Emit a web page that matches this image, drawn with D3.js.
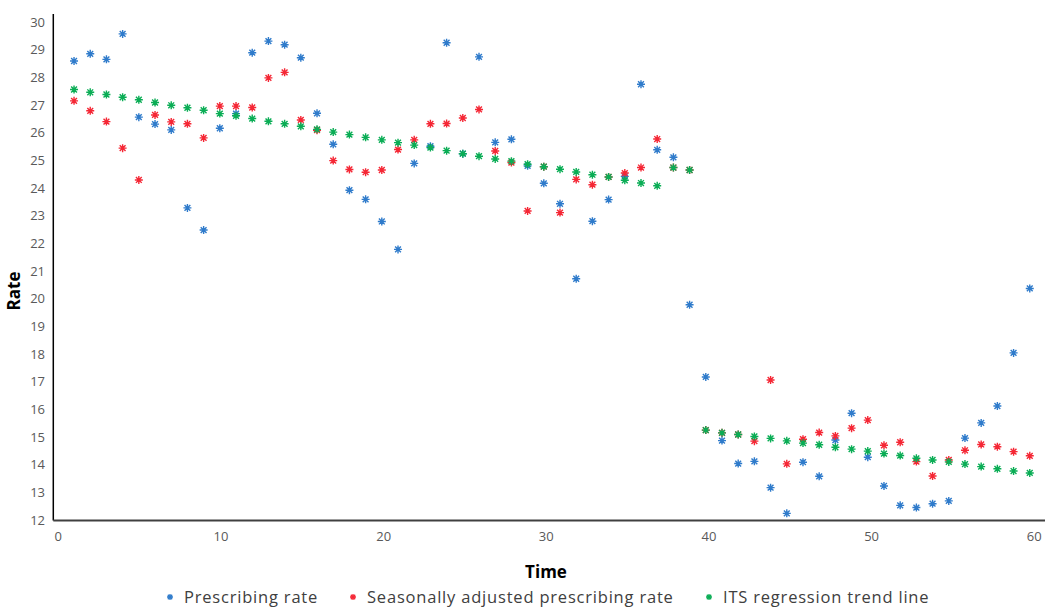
<!DOCTYPE html>
<html>
<head>
<meta charset="utf-8">
<script src="https://cdn.jsdelivr.net/npm/d3@7"></script>
<style>
  body { margin: 0; background: #fff; }
  text { font-family: "Open Sans", sans-serif; }
</style>
</head>
<body>
<div id="chart"></div>
<script>
// Time points (months)
const time = [1, 2, 3, 4, 5, 6, 7, 8, 9, 10, 11, 12, 13, 14, 15, 16, 17, 18, 19, 20,
    21, 22, 23, 24, 25, 26, 27, 28, 29, 30, 31, 32, 33, 34, 35, 36, 37, 38, 39, 40,
    41, 42, 43, 44, 45, 46, 47, 48, 49, 50, 51, 52, 53, 54, 55, 56, 57, 58, 59, 60];

// Prescribing rate
const prescribing = [28.59, 28.85, 28.65, 29.57, 26.56, 26.31, 26.10, 23.28, 22.48, 26.16,
    26.69, 28.89, 29.31, 29.18, 28.71, 26.70, 25.58, 23.92, 23.59, 22.79,
    21.78, 24.89, 25.51, 29.25, 25.24, 28.74, 25.65, 25.76, 24.80, 24.17,
    23.43, 20.72, 22.80, 23.58, 24.42, 27.75, 25.38, 25.11, 19.78, 17.17,
    14.87, 14.04, 14.12, 13.17, 12.24, 14.09, 13.58, 14.89, 15.86, 14.27,
    13.23, 12.53, 12.45, 12.59, 12.69, 14.96, 15.51, 16.12, 18.04, 20.37];

// Seasonally adjusted prescribing rate
const seasonal = [27.15, 26.79, 26.40, 25.44, 24.29, 26.64, 26.39, 26.32, 25.81, 26.96,
    26.96, 26.91, 27.98, 28.18, 26.46, 26.09, 24.99, 24.67, 24.57, 24.65,
    25.39, 25.74, 26.32, 26.33, 26.53, 26.84, 25.34, 24.92, 23.17, 24.77,
    23.11, 24.31, 24.12, 24.40, 24.54, 24.74, 25.77, 24.74, 24.65, 15.25,
    15.15, 15.09, 14.85, 17.06, 14.03, 14.92, 15.16, 15.04, 15.32, 15.61,
    14.70, 14.81, 14.11, 13.59, 14.17, 14.52, 14.73, 14.65, 14.47, 14.32];

// ITS regression trend line
const trend = [27.56, 27.46, 27.38, 27.28, 27.19, 27.09, 26.99, 26.90, 26.81, 26.69,
    26.61, 26.51, 26.41, 26.32, 26.23, 26.12, 26.02, 25.93, 25.83, 25.74,
    25.64, 25.55, 25.46, 25.35, 25.24, 25.15, 25.05, 24.97, 24.86, 24.77,
    24.68, 24.58, 24.48, 24.40, 24.28, 24.18, 24.08, 24.74, 24.65, 15.25,
    15.15, 15.09, 15.02, 14.95, 14.86, 14.78, 14.72, 14.63, 14.56, 14.49,
    14.40, 14.33, 14.23, 14.17, 14.10, 14.02, 13.93, 13.85, 13.77, 13.70];

const seriesNames = ["Prescribing rate", "Seasonally adjusted prescribing rate", "ITS regression trend line"];
const xTicks = [0, 10, 20, 30, 40, 50, 60];
const yTicks = [12, 13, 14, 15, 16, 17, 18, 19, 20, 21, 22, 23, 24, 25, 26, 27, 28, 29, 30];

const colors = ["#2f7bcb", "#f52735", "#0aad55"];
const width = 1048, height = 610;

let svg = d3.select("#chart")
    .append("svg")
    .attr("width", width)
    .attr("height", height);

// Scales (plot frame runs a little past 0 and 60)
let xScale = d3.scaleLinear()
    .domain([-0.28, 60.94])
    .range([53.3, 1045]);

let yScale = d3.scaleLinear()
    .domain([12, 30])
    .range([520, 22]);

// y axis labels
let yAxis = svg.append("g")
    .attr("transform", "translate(53,0)")
    .call(d3.axisLeft(yScale).tickValues(yTicks).tickSize(0).tickPadding(8));
yAxis.select(".domain").remove();
yAxis.selectAll("text")
    .style("font-size", "13px")
    .style("fill", "#595959");

// x axis labels, nudged slightly right like the original's
let xAxis = svg.append("g")
    .attr("transform", "translate(0,520)")
    .call(d3.axisBottom(xScale).tickValues(xTicks).tickSize(0).tickPadding(12));
xAxis.select(".domain").remove();
xAxis.selectAll("text")
    .attr("dx", d => d / 15)
    .style("font-size", "13px")
    .style("fill", "#595959");

// axis lines
svg.append("line")
    .attr("x1", 53.3).attr("x2", 53.3)
    .attr("y1", 14).attr("y2", 520.5)
    .attr("stroke", "#000")
    .attr("stroke-width", 1.5);

svg.append("line")
    .attr("x1", 53.3).attr("x2", 1045)
    .attr("y1", 520.5).attr("y2", 520.5)
    .attr("stroke", "#404040")
    .attr("stroke-width", 1.8);

// asterisk marker
const star = "M-4,0H4M0,-4V4M-2.9,-2.9L2.9,2.9M-2.9,2.9L2.9,-2.9";

const allSeries = [prescribing, seasonal, trend];

allSeries.forEach(function(values, i) {
    svg.append("g")
        .selectAll("path")
        .data(values)
        .enter()
        .append("path")
        .attr("transform", (d, j) => `translate(${xScale(time[j])},${yScale(d)})`)
        .attr("d", star)
        .attr("fill", "none")
        .attr("stroke", colors[i])
        .attr("stroke-width", 1.4);
});

// axis titles
svg.append("text")
    .attr("x", 546)
    .attr("y", 578)
    .text("Time")
    .style("text-anchor", "middle")
    .style("font-size", "17px")
    .style("font-weight", "bold");

svg.append("text")
    .attr("transform", "translate(20,291) rotate(-90)")
    .text("Rate")
    .style("text-anchor", "middle")
    .style("font-size", "17px")
    .style("font-weight", "bold");

// legend
const legendX = [170, 353, 709];

const legend = svg.selectAll(".legend")
    .data(seriesNames)
    .enter().append("g")
    .attr("class", "legend")
    .attr("transform", (d, i) => `translate(${legendX[i]},597)`);

legend.append("path")
    .attr("d", "M-3,0H3M0,-3V3M-2.2,-2.2L2.2,2.2M-2.2,2.2L2.2,-2.2")
    .attr("fill", "none")
    .attr("stroke", (d, i) => colors[i])
    .attr("stroke-width", 1.3);

legend.append("text")
    .attr("x", 14)
    .attr("y", 0)
    .attr("dy", ".35em")
    .style("font-size", "16.5px")
    .style("letter-spacing", "0.8px")
    .style("fill", "#404040")
    .text(d => d);
</script>
</body>
</html>
